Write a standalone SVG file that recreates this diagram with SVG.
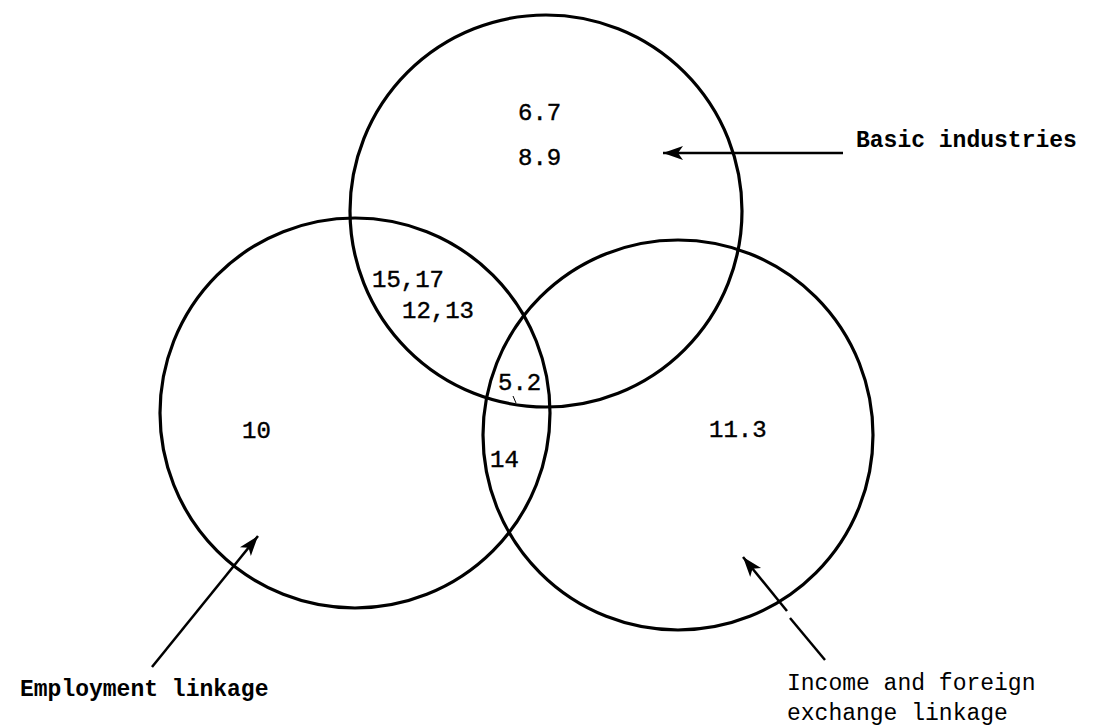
<svg xmlns="http://www.w3.org/2000/svg" width="1097" height="726" viewBox="0 0 1097 726">
<style>
.c{fill:none;stroke:#000;stroke-width:3.2}
.n{font-family:"Liberation Mono","DejaVu Sans Mono",monospace;font-size:24px;fill:#000;stroke:#000;stroke-width:0.4}
.l{font-family:"Liberation Mono","DejaVu Sans Mono",monospace;font-size:23px;fill:#000}
.b{font-weight:bold}
.a{stroke:#000;stroke-width:2.5;fill:none}
</style>
<defs>
<marker id="ah" markerUnits="userSpaceOnUse" markerWidth="24" markerHeight="16" refX="20" refY="8" orient="auto">
<path d="M0,1 L20,8 L0,15 L5,8 z" fill="#000"/>
</marker>
</defs>
<rect width="1097" height="726" fill="#fff"/>
<g id="basic">
<circle class="c" cx="546" cy="211" r="196"/>
<text class="n" x="518" y="120">6.7</text>
<text class="n" x="518" y="165">8.9</text>
</g>
<g id="employment">
<circle class="c" cx="355" cy="413" r="195"/>
<text class="n" x="242" y="438">10</text>
</g>
<g id="income">
<circle class="c" cx="678" cy="435" r="195"/>
<text class="n" x="709" y="437">11.3</text>
</g>
<g id="overlaps">
<text class="n" x="372" y="287">15,17</text>
<text class="n" x="402" y="318">12,13</text>
<text class="n" x="498" y="390">5.2</text>
<line x1="513" y1="396" x2="516" y2="403" stroke="#000" stroke-width="1"/>
<text class="n" x="490" y="467">14</text>
</g>
<g id="labels">
<text class="l b" x="856" y="147">Basic industries</text>
<text class="l b" x="20" y="696">Employment linkage</text>
<text class="l" x="787" y="690">Income and foreign</text>
<text class="l" x="787" y="720">exchange linkage</text>
</g>
<g id="connectors">
<line class="a" x1="843" y1="153" x2="663" y2="153" marker-end="url(#ah)"/>
<line class="a" x1="152" y1="667" x2="258" y2="536" marker-end="url(#ah)"/>
<line class="a" x1="787" y1="611" x2="743" y2="557" marker-end="url(#ah)"/>
<line class="a" x1="825" y1="660" x2="790" y2="618"/>
</g>
</svg>
